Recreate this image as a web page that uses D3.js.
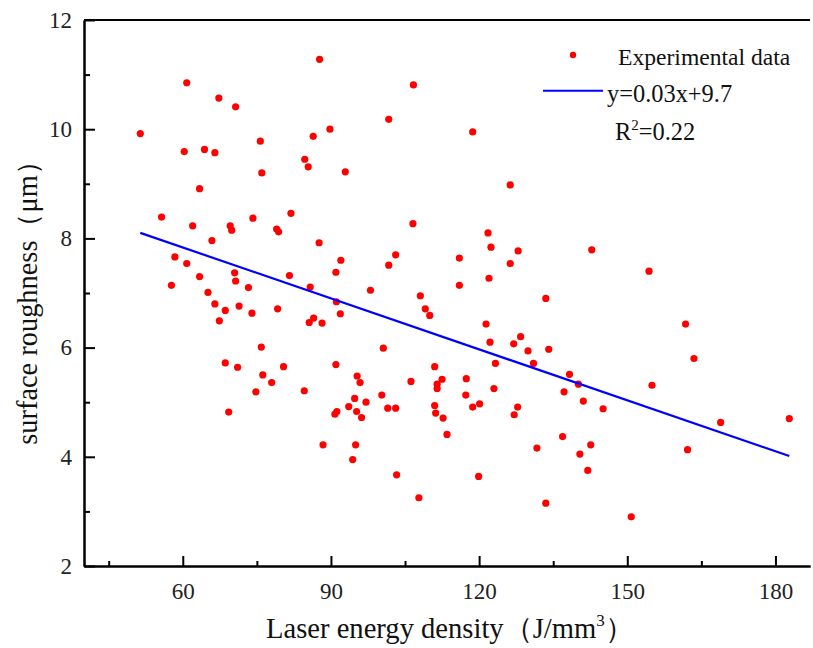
<!DOCTYPE html>
<html>
<head>
<meta charset="utf-8">
<script src="https://cdn.jsdelivr.net/npm/d3@7/dist/d3.min.js"></script>
<style>
  body { margin: 0; background: #fff; }
</style>
</head>
<body>
<div id="chart"></div>
<script>
/* Laser energy density (J/mm3) of each sample */
var energyDensity = [
    51.4, 60.8, 60.3, 64.4, 66.5, 67.3, 70.7, 75.7, 76.0, 63.4,
    55.7, 74.2, 81.9, 87.7, 106.7, 101.7, 89.8, 86.4, 118.7, 84.7,
    85.4, 92.9, 126.3, 62.0, 69.6, 69.9, 79.0, 79.4, 65.9, 58.4,
    60.8, 70.5, 70.7, 63.4, 57.7, 73.3, 81.6, 65.1, 66.5, 71.4,
    68.6, 74.0, 79.2, 67.4, 75.9, 68.6, 71.1, 80.4, 76.2, 78.0,
    74.8, 69.3, 87.6, 106.6, 92.0, 91.0, 103.1, 101.7, 121.8, 122.4,
    127.9, 126.3, 116.0, 122.0, 116.0, 85.8, 98.0, 108.1, 133.5, 91.1,
    109.1, 110.0, 91.9, 86.5, 85.6, 88.2, 121.4, 128.4, 122.2, 127.0,
    100.6, 129.9, 134.1, 123.3, 131.0, 91.0, 111.0, 95.3, 95.9, 106.2,
    112.5, 111.5, 111.5, 117.4, 123.0, 84.6, 117.3, 100.3, 94.8, 97.1,
    93.6, 91.2, 90.8, 95.2, 101.5, 103.1, 111.0, 111.2, 118.7, 120.1,
    127.8, 127.1, 112.7, 96.2, 113.5, 88.4, 95.0, 94.4, 103.3, 107.8,
    119.9, 131.7, 133.5, 136.9, 141.1, 145.1, 142.6, 140.4, 142.0, 150.8,
    162.2, 168.9, 182.8, 142.8, 154.4, 161.8, 163.5, 138.3, 140.1, 137.2,
    155.0
];

/* Surface roughness (um) of each sample */
var roughness = [
    9.92, 10.85, 9.59, 9.63, 9.57, 10.57, 10.41, 9.78, 9.20, 8.91,
    8.39, 8.37, 8.46, 11.28, 10.81, 10.18, 10.00, 9.87, 9.95, 9.45,
    9.31, 9.22, 8.98, 8.23, 8.23, 8.15, 8.17, 8.12, 7.96, 7.66,
    7.54, 7.37, 7.22, 7.30, 7.14, 7.10, 7.32, 7.01, 6.80, 6.76,
    6.68, 6.63, 6.71, 6.49, 6.01, 5.72, 5.64, 5.65, 5.50, 5.36,
    5.19, 4.82, 7.92, 8.27, 7.60, 7.38, 7.70, 7.51, 8.10, 7.84,
    7.77, 7.54, 7.64, 7.27, 7.14, 7.11, 7.05, 6.95, 6.90, 6.84,
    6.71, 6.59, 6.62, 6.54, 6.46, 6.45, 6.43, 6.20, 6.10, 6.07,
    5.99, 5.94, 5.97, 5.71, 5.71, 5.69, 5.65, 5.48, 5.36, 5.38,
    5.42, 5.33, 5.25, 5.43, 5.25, 5.21, 5.13, 5.13, 5.07, 5.00,
    4.92, 4.83, 4.78, 4.83, 4.89, 4.89, 4.94, 4.80, 4.91, 4.97,
    4.91, 4.77, 4.71, 4.72, 4.41, 4.22, 4.22, 3.95, 3.67, 3.25,
    3.64, 4.16, 3.15, 4.37, 5.02, 4.88, 4.22, 4.05, 3.75, 2.90,
    4.13, 4.63, 4.70, 7.79, 7.40, 6.43, 5.80, 5.51, 5.33, 5.19,
    5.31
];

/* Linear fit */
var fitSlope = -0.0311,
    fitIntercept = 9.70;

var xTicks = [60, 90, 120, 150, 180],
    xMinorTicks = [45, 75, 105, 135, 165],
    yTicks = [2, 4, 6, 8, 10, 12],
    yMinorTicks = [3, 5, 7, 9, 11];

var legendPoints = "Experimental data",
    legendFit = "y=0.03x+9.7",
    xTitle = "Laser energy density（J/mm",
    yTitle = "surface roughness（μm）";

/* Overall SVG Container */
var inputWidth = 813,
    inputHeight = 648,
    fontFamily = "'Times New Roman', 'Liberation Serif', serif";

var margin = { top: 20, left: 84, right: 3, bottom: 82 };

var svg = d3.select("#chart")
    .append("svg")
    .attr("width", inputWidth)
    .attr("height", inputHeight)
    .style("background", "#fff");

var x = d3.scaleLinear()
    .domain([40, 187])
    .range([margin.left, margin.left + 147 * 4.939]);

var y = d3.scaleLinear()
    .domain([2, 12])
    .range([inputHeight - margin.bottom, margin.top]);

/* Axes */
var xAxis = svg.append("g")
    .attr("transform", "translate(0," + y(2) + ")")
    .call(d3.axisBottom(x).tickValues(xTicks).tickSizeInner(-10).tickSizeOuter(0).tickPadding(17));

var xMinor = svg.append("g")
    .attr("transform", "translate(0," + y(2) + ")")
    .call(d3.axisBottom(x).tickValues(xMinorTicks).tickSizeInner(-5).tickSizeOuter(0).tickFormat(""));

var yAxis = svg.append("g")
    .attr("transform", "translate(" + x(40) + ",0)")
    .call(d3.axisLeft(y).tickValues(yTicks).tickSizeInner(-11).tickSizeOuter(0).tickPadding(12));

var yMinor = svg.append("g")
    .attr("transform", "translate(" + x(40) + ",0)")
    .call(d3.axisLeft(y).tickValues(yMinorTicks).tickSizeInner(-6).tickSizeOuter(0).tickFormat(""));

[xAxis, xMinor, yAxis, yMinor].forEach(function(g) {
    g.attr("font-family", fontFamily);
    g.select(".domain").attr("stroke", "#000").attr("stroke-width", 2);
    g.selectAll(".tick line").attr("stroke", "#000").attr("stroke-width", 2);
    g.selectAll(".tick text")
        .attr("font-family", fontFamily)
        .attr("font-size", 23)
        .attr("fill", "#222");
});

/* top border line */
svg.append("line")
    .attr("x1", x(40))
    .attr("x2", x(187))
    .attr("y1", y(12))
    .attr("y2", y(12))
    .attr("stroke", "#000")
    .attr("stroke-width", 2);

/* Scatter points */
svg.append("g")
    .selectAll("circle")
    .data(energyDensity)
    .enter().append("circle")
    .attr("cx", function(d) { return x(d); })
    .attr("cy", function(d, i) { return y(roughness[i]); })
    .attr("r", 3.6)
    .attr("fill", "#ff0000");

/* Fit line over the range of the data */
var xExtent = d3.extent(energyDensity);
var line = d3.line()
    .x(function(d) { return x(d); })
    .y(function(d) { return y(fitSlope * d + fitIntercept); });

svg.append("path")
    .datum(xExtent)
    .attr("d", line)
    .attr("fill", "none")
    .attr("stroke", "#0000ff")
    .attr("stroke-width", 2.2);

/* Legend */
svg.append("circle")
    .attr("cx", 573)
    .attr("cy", 55)
    .attr("r", 3.2)
    .attr("fill", "#ff0000");

svg.append("text")
    .attr("x", 618)
    .attr("y", 65)
    .attr("font-family", fontFamily)
    .attr("font-size", 23.6)
    .attr("fill", "#111")
    .text(legendPoints);

svg.append("line")
    .attr("x1", 543)
    .attr("x2", 603)
    .attr("y1", 90.7)
    .attr("y2", 90.7)
    .attr("stroke", "#0000ff")
    .attr("stroke-width", 2);

svg.append("text")
    .attr("x", 607)
    .attr("y", 102)
    .attr("font-family", fontFamily)
    .attr("font-size", 24.4)
    .attr("fill", "#111")
    .text(legendFit);

var r2 = svg.append("text")
    .attr("x", 615)
    .attr("y", 140)
    .attr("font-family", fontFamily)
    .attr("font-size", 24.4)
    .attr("fill", "#111");
r2.append("tspan").text("R");
r2.append("tspan").attr("font-size", 15).attr("dy", -10).text("2");
r2.append("tspan").attr("dy", 10).text("=0.22");

/* Axis titles */
var xt = svg.append("text")
    .attr("x", 266)
    .attr("y", 638)
    .attr("font-family", fontFamily)
    .attr("font-size", 28.6)
    .attr("fill", "#111");
xt.append("tspan").text(xTitle);
xt.append("tspan").attr("font-size", 17).attr("dy", -12).text("3");
xt.append("tspan").attr("dy", 12).text("）");

svg.append("text")
    .attr("transform", "translate(37,296) rotate(-90)")
    .attr("text-anchor", "middle")
    .attr("font-family", fontFamily)
    .attr("font-size", 28.4)
    .attr("fill", "#111")
    .text(yTitle);
</script>
</body>
</html>
